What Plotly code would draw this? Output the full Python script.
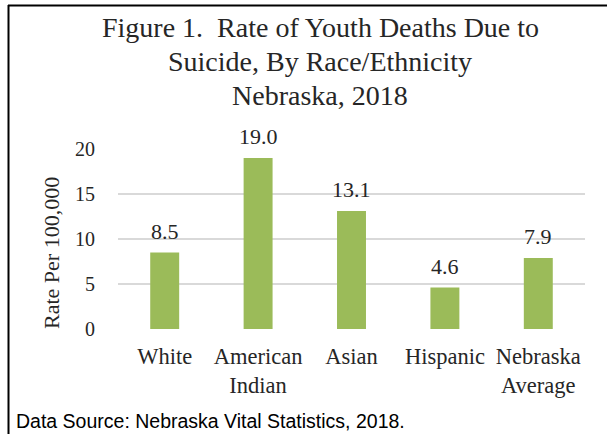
import plotly.graph_objects as go

categories = ["White", "American<br>Indian", "Asian", "Hispanic", "Nebraska<br>Average"]
values = [8.5, 19.0, 13.1, 4.6, 7.9]
y_ticks = [0, 5, 10, 15, 20]

W, H = 607, 434
L, R, T, B = 118, 585, 149, 329  # plot area pixel bounds

def px(x):
    return (x - L) / (R - L)

def py(y):
    return (B - y) / (B - T)

serif = "Liberation Serif, Times New Roman, serif"

fig = go.Figure(go.Bar(
    x=categories, y=values,
    marker=dict(color="#9bbb59", line=dict(width=0)),
    cliponaxis=False,
    width=0.31,
))

for c, v in zip(categories, values):
    fig.add_annotation(x=c, y=v, text=f"{v:.1f}", showarrow=False, yanchor="bottom", yshift=7,
                       font=dict(family=serif, size=22, color="#262626"))

fig.update_layout(
    width=W, height=H,
    margin=dict(l=L, r=W - R, t=T, b=H - B),
    paper_bgcolor="white", plot_bgcolor="white",
    showlegend=False,
    font=dict(family=serif, color="#262626"),
    xaxis=dict(showgrid=False, showline=False, ticks="", ticklabelstandoff=11,
               tickfont=dict(size=22.5, color="#262626")),
    yaxis=dict(range=[0, 20], tickvals=y_ticks, showgrid=True, gridcolor="#d9d9d9", gridwidth=2,
               zeroline=False, showline=False, ticks="", ticklabelstandoff=22,
               tickfont=dict(size=20, color="#262626")),
)

titles = ["Figure 1.  Rate of Youth Deaths Due to", "Suicide, By Race/Ethnicity", "Nebraska, 2018"]
for t, yy in zip(titles, [28, 62, 95]):
    fig.add_annotation(text=t, x=px(320), y=py(yy), xref="paper", yref="paper",
                       showarrow=False, xanchor="center", yanchor="middle",
                       font=dict(family=serif, size=28, color="#262626"))

fig.add_annotation(text="Rate Per 100,000", x=px(51), y=py(253), xref="paper", yref="paper",
                   showarrow=False, textangle=-90, xanchor="center", yanchor="middle",
                   font=dict(family=serif, size=22, color="#262626"))

fig.add_annotation(text="Data Source: Nebraska Vital Statistics, 2018.", x=px(14), y=py(421),
                   xref="paper", yref="paper", showarrow=False, xanchor="left", yanchor="middle",
                   font=dict(family="Liberation Sans, Arial, sans-serif", size=19.5, color="black"))

# frame lines
fig.add_shape(type="line", x0=px(8), x1=px(607), y0=py(5.5), y1=py(5.5), xref="paper", yref="paper",
              line=dict(color="black", width=2))
fig.add_shape(type="line", x0=px(8.5), x1=px(8.5), y0=py(5), y1=py(434), xref="paper", yref="paper",
              line=dict(color="black", width=2))

fig.write_html("out.html")
